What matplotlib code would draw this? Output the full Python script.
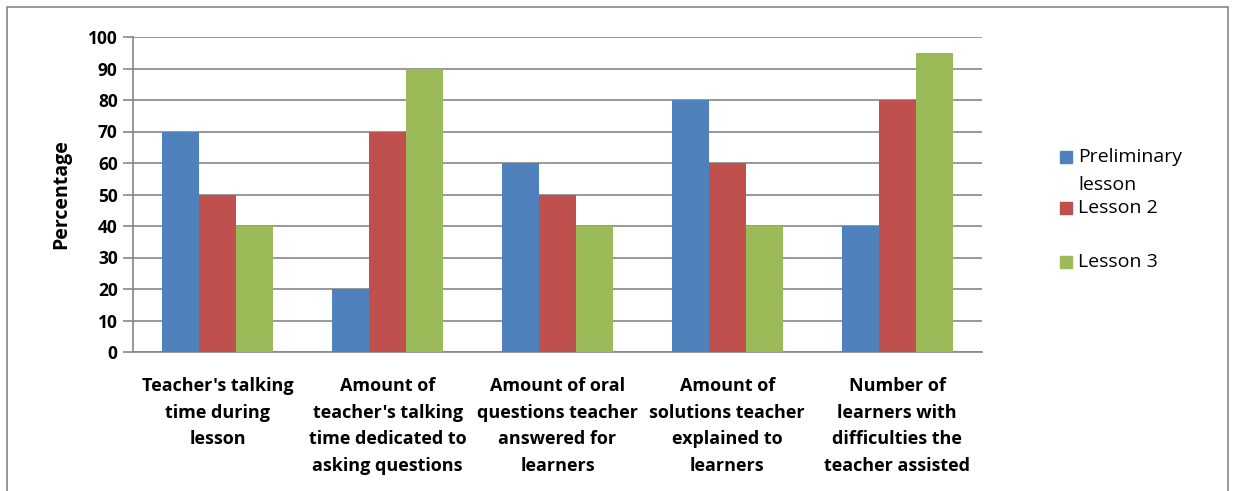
import numpy as np
import matplotlib
matplotlib.use("Agg")
import matplotlib.pyplot as plt
from matplotlib.patches import Rectangle

categories = ["Teacher's talking\ntime during\nlesson",
              "Amount of\nteacher's talking\ntime dedicated to\nasking questions",
              "Amount of oral\nquestions teacher\nanswered for\nlearners",
              "Amount of\nsolutions teacher\nexplained to\nlearners",
              "Number of\nlearners with\ndifficulties the\nteacher assisted"]
series_names = ["Preliminary\nlesson", "Lesson 2", "Lesson 3"]
preliminary = [70, 20, 60, 80, 40]
lesson2 = [50, 70, 50, 60, 80]
lesson3 = [40, 90, 40, 40, 95]
colors = ["#4f81bd", "#c0504d", "#9bbb59"]

plt.rcParams["font.family"] = ["Open Sans", "DejaVu Sans"]

fig = plt.figure(figsize=(12.34, 4.91), dpi=100)
ax = fig.add_axes([133 / 1234, 1 - 352 / 491, (982 - 133) / 1234, (352 - 37) / 491])

x = np.arange(len(categories))
w = 0.218
for k, vals in enumerate([preliminary, lesson2, lesson3]):
    ax.bar(x + (k - 1) * w, vals, w, color=colors[k], zorder=3)

ax.set_xlim(-0.5, len(categories) - 0.5)
ax.set_ylim(0, 100)
ax.set_yticks(range(0, 101, 10))
ax.yaxis.grid(True, color="#868686", lw=1.2, zorder=0)
for s in ["top", "right"]:
    ax.spines[s].set_visible(False)
for s in ["left", "bottom"]:
    ax.spines[s].set_color("#868686")
    ax.spines[s].set_linewidth(1.2)
ax.tick_params(axis="y", length=7, width=1.2, color="#868686", labelsize=12.5, pad=4)
ax.tick_params(axis="x", length=0, pad=18)
for t in ax.get_yticklabels():
    t.set_fontweight("bold")
ax.set_xticks(x)
ax.set_xticklabels(categories, fontsize=13, fontweight="bold", linespacing=1.62)
ax.set_ylabel("Percentage", fontsize=14, fontweight="bold", labelpad=12)

# legend drawn by hand to match spacing
leg_y = [157, 208, 262]
for name, c, yy in zip(series_names, colors, leg_y):
    fig.patches.append(Rectangle((1060 / 1234, 1 - (yy + 6) / 491), 12 / 1234, 12 / 491,
                                 transform=fig.transFigure, color=c))
    fig.text(1078 / 1234, 1 - (yy - 9) / 491, name, fontsize=14, va="top", ha="left",
             linespacing=1.75)

# outer frame
fig.patches.append(Rectangle((7 / 1234, -0.1), 1221 / 1234, 1.1 - 7 / 491,
                             transform=fig.transFigure, fill=False, ec="#868686", lw=1.2))

fig.savefig("out.png", dpi=100)
